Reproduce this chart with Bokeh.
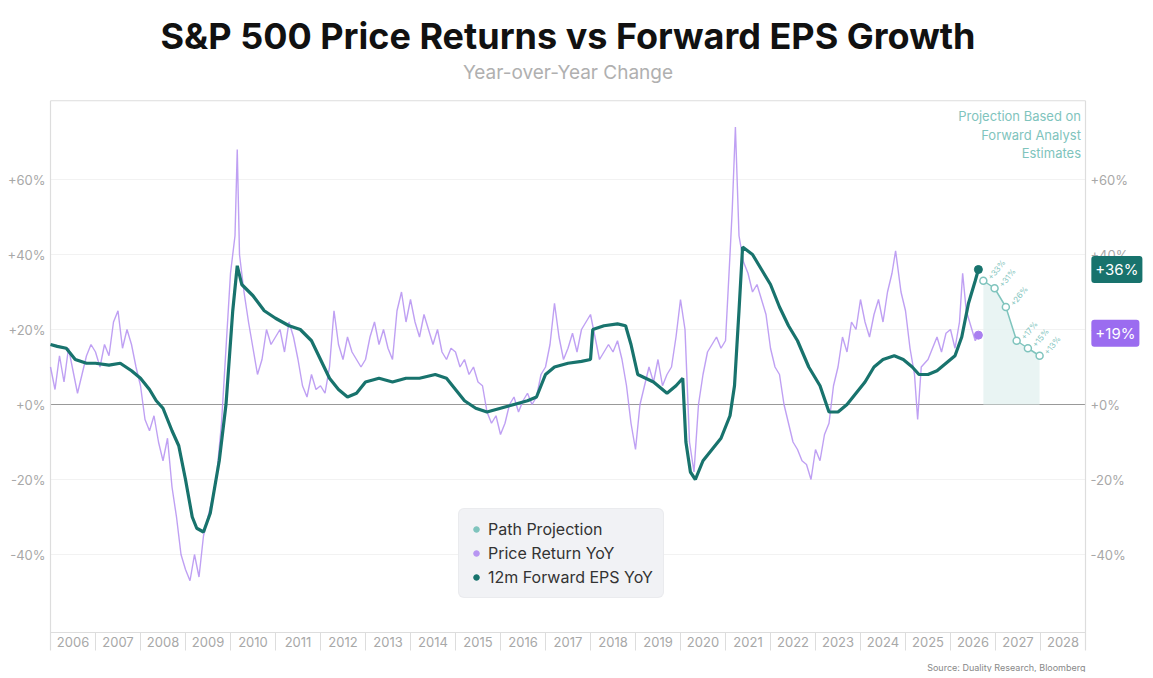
from bokeh.plotting import figure
from bokeh.models import Label, Legend, LegendItem, Range1d
from bokeh.core.properties import value
from bokeh.embed import file_html
from bokeh.resources import INLINE

# price return YoY (%)
price_x = [2006.0, 2006.1, 2006.2, 2006.3, 2006.4, 2006.5, 2006.6, 2006.7, 2006.8, 2006.9,
           2007.0, 2007.1, 2007.2, 2007.3, 2007.4, 2007.5, 2007.6, 2007.7, 2007.8, 2007.9,
           2008.0, 2008.1, 2008.2, 2008.3, 2008.4, 2008.5, 2008.6, 2008.7, 2008.8, 2008.9,
           2009.0, 2009.1, 2009.2, 2009.3, 2009.4, 2009.5, 2009.6, 2009.7, 2009.8, 2009.9,
           2010.0, 2010.1, 2010.15, 2010.2, 2010.3, 2010.4, 2010.5, 2010.6, 2010.7, 2010.8, 2010.9,
           2011.0, 2011.1, 2011.2, 2011.3, 2011.4, 2011.5, 2011.6, 2011.7, 2011.8, 2011.9,
           2012.0, 2012.1, 2012.2, 2012.3, 2012.4, 2012.5, 2012.6, 2012.7, 2012.8, 2012.9,
           2013.0, 2013.1, 2013.2, 2013.3, 2013.4, 2013.5, 2013.6, 2013.7, 2013.8, 2013.9,
           2014.0, 2014.1, 2014.2, 2014.3, 2014.4, 2014.5, 2014.6, 2014.7, 2014.8, 2014.9,
           2015.0, 2015.1, 2015.2, 2015.3, 2015.4, 2015.5, 2015.6, 2015.7, 2015.8, 2015.9,
           2016.0, 2016.1, 2016.2, 2016.3, 2016.4, 2016.5, 2016.6, 2016.7, 2016.8, 2016.9,
           2017.0, 2017.1, 2017.2, 2017.3, 2017.4, 2017.5, 2017.6, 2017.7, 2017.8, 2017.9,
           2018.0, 2018.1, 2018.2, 2018.3, 2018.4, 2018.5, 2018.6, 2018.7, 2018.8, 2018.9,
           2019.0, 2019.1, 2019.2, 2019.3, 2019.4, 2019.5, 2019.6, 2019.7, 2019.8, 2019.9,
           2020.0, 2020.1, 2020.2, 2020.3, 2020.4, 2020.5, 2020.6, 2020.7, 2020.8, 2020.9,
           2021.0, 2021.1, 2021.15, 2021.22, 2021.3, 2021.4, 2021.5, 2021.6, 2021.7, 2021.8, 2021.9,
           2022.0, 2022.1, 2022.2, 2022.3, 2022.4, 2022.5, 2022.6, 2022.7, 2022.8, 2022.9,
           2023.0, 2023.1, 2023.2, 2023.3, 2023.4, 2023.5, 2023.6, 2023.7, 2023.8, 2023.9,
           2024.0, 2024.1, 2024.2, 2024.3, 2024.4, 2024.5, 2024.6, 2024.7, 2024.78, 2024.9,
           2025.0, 2025.1, 2025.2, 2025.27, 2025.35, 2025.5, 2025.6, 2025.7, 2025.8, 2025.9,
           2026.0, 2026.1, 2026.2, 2026.27, 2026.35, 2026.45, 2026.55, 2026.62]
price_y = [10, 4, 13, 6, 15, 9, 3, 8, 13, 16,
           14, 10, 16, 13, 22, 25, 15, 20, 16, 10,
           5, -4, -7, -3, -10, -15, -9, -22, -30, -40,
           -44, -47, -40, -46, -35, -30, -25, -18, -5, 15,
           35, 45, 68, 40, 30, 22, 15, 8, 12, 20, 16,
           18, 20, 14, 22, 18, 12, 5, 2, 8, 4,
           5, 3, 10, 25, 16, 12, 18, 14, 12, 10,
           12, 18, 22, 16, 20, 15, 12, 25, 30, 22,
           28, 22, 18, 24, 20, 16, 20, 14, 12, 15,
           14, 10, 12, 8, 10, 6, 5, -2, -5, -3,
           -8, -5, 0, 2, -2, 1, 3, 0, 2, 8,
           10, 16, 27, 18, 12, 15, 19, 14, 20, 22,
           24, 18, 12, 14, 16, 14, 17, 12, 5, -5,
           -12, 0, 5, 10, 6, 12, 5, 8, 10, 18,
           28, 20, -10, -18, 0, 8, 14, 16, 18, 15,
           17, 40, 52, 74, 45, 38, 35, 30, 32, 28, 24,
           15, 10, 8, 0, -5, -10, -12, -15, -16, -20,
           -12, -15, -8, -5, 5, 10, 18, 14, 22, 20,
           28, 22, 18, 24, 28, 22, 30, 35, 41, 30,
           25, 15, 8, -4, 10, 12, 15, 18, 14, 19,
           20, 15, 22, 35, 25, 21, 17, 18.5]

# 12m forward EPS YoY (%)
eps_x = [2006.0, 2006.15, 2006.35, 2006.55, 2006.8, 2007.0, 2007.3, 2007.55, 2007.8, 2008.0,
         2008.2, 2008.35, 2008.5, 2008.7, 2008.85, 2009.0, 2009.15, 2009.25, 2009.4, 2009.55,
         2009.75, 2009.9, 2010.05, 2010.15, 2010.25, 2010.5, 2010.75, 2011.0, 2011.3, 2011.55,
         2011.8, 2012.0, 2012.2, 2012.4, 2012.6, 2012.8, 2013.0, 2013.3, 2013.6, 2013.9,
         2014.2, 2014.55, 2014.8, 2015.0, 2015.2, 2015.45, 2015.7, 2016.0, 2016.3, 2016.6,
         2016.8, 2017.0, 2017.2, 2017.5, 2017.8, 2018.0, 2018.05, 2018.3, 2018.6, 2018.78,
         2018.9, 2019.05, 2019.4, 2019.7, 2019.9, 2020.05, 2020.12, 2020.22, 2020.33, 2020.5,
         2020.7, 2020.9, 2021.1, 2021.2, 2021.3, 2021.38, 2021.6, 2021.8, 2022.0, 2022.2,
         2022.4, 2022.6, 2022.85, 2023.1, 2023.3, 2023.5, 2023.7, 2023.9, 2024.1, 2024.3,
         2024.5, 2024.75, 2024.95, 2025.15, 2025.3, 2025.5, 2025.7, 2025.9, 2026.1, 2026.25,
         2026.4, 2026.55, 2026.62]
eps_y = [16, 15.5, 15, 12, 11, 11, 10.5, 11, 9, 7,
         4, 1, -1, -7, -11, -20, -30, -33, -34, -29,
         -15, 0, 25, 37, 32, 29, 25, 23, 21, 20,
         17, 12, 7, 4, 2, 3, 6, 7, 6, 7,
         7, 8, 7, 4, 1, -1, -2, -1, 0, 1,
         2, 8, 10, 11, 11.5, 12, 20, 21, 21.5, 21,
         16, 8, 6, 3, 5, 7, -10, -18, -20, -15,
         -12, -9, -3, 5, 25, 42, 40, 36, 32, 26,
         21, 17, 10, 5, -2, -2, 0, 3, 6, 10,
         12, 13, 12, 10, 8, 8, 9, 11, 13, 18,
         27, 33, 36]

proj_x = [2026.73, 2026.98, 2027.23, 2027.47, 2027.72, 2027.98]
proj_y = [33, 31, 26, 17, 15, 13]
proj_labels = ["+33%", "+31%", "+26%", "+17%", "+15%", "+13%"]

years = list(range(2006, 2029))
y_ticks = [-40, -20, 0, 20, 40, 60]
y_tick_labels = ["-40%", "-20%", "+0%", "+20%", "+40%", "+60%"]
badge_vals = [36, 19]

X0, X1 = 2006, 2029      # plot frame, years
Y0, Y1 = -60.8, 81       # plot frame, percent
BAND = -65.6             # bottom of the year band

PURPLE = "#b896f2"
TEAL = "#18736d"
PROJ = "#7fc4bd"
GREY = "#a8a8a8"
FRAME = "#dddddd"

W, H = 1145, 672
# the whole canvas is one data space: 45 px per year, 3.75 px per percent
p = figure(width=W, height=H, x_range=Range1d(2006 - 50 / 45, 2006 + (W - 50) / 45),
           y_range=Range1d((404 - H) / 3.75, 404 / 3.75),
           output_backend="svg", toolbar_location=None,
           min_border_left=0, min_border_right=0, min_border_top=0, min_border_bottom=0)
p.axis.visible = False
p.grid.visible = False
p.outline_line_color = None

# grid lines
p.segment(x0=[X0] * len(y_ticks), x1=[X1] * len(y_ticks), y0=y_ticks, y1=y_ticks,
          line_color="#f2f2f2", line_width=1)
p.segment(x0=[X0], x1=[X1], y0=[0], y1=[0], line_color="#999999", line_width=1.2)

# frame and year band
p.segment(x0=[X0, X0, X0, X1], x1=[X1, X1, X0, X1], y0=[Y1, Y0, Y1, Y1], y1=[Y1, Y0, BAND, BAND],
          line_color=FRAME, line_width=1.2)
p.segment(x0=years[1:], x1=years[1:], y0=[Y0] * (len(years) - 1), y1=[BAND] * (len(years) - 1),
          line_color=FRAME, line_width=1)
p.text(x=[y + 0.5 for y in years], y=[(Y0 + BAND) / 2] * len(years), text=[str(y) for y in years],
       text_align="center", text_baseline="middle", text_font=value("Inter"),
       text_font_size="13px", text_color=GREY)

# y tick labels on both sides
p.text(x=[X0 - 0.11] * len(y_ticks), y=y_ticks, text=y_tick_labels, text_align="right",
       text_baseline="middle", text_font=value("Inter"), text_font_size="13px", text_color=GREY)
p.text(x=[X1 + 0.11] * len(y_ticks), y=y_ticks, text=y_tick_labels, text_align="left",
       text_baseline="middle", text_font=value("Inter"), text_font_size="13px", text_color=GREY)

# projection shading and path
p.varea(x=proj_x, y1=[0] * len(proj_x), y2=proj_y, fill_color="#e3f1f0", fill_alpha=0.8)
price_r = p.line(price_x, price_y, line_color=PURPLE, line_width=1.4, line_alpha=0.9)
eps_r = p.line(eps_x, eps_y, line_color=TEAL, line_width=3.2)
p.scatter([eps_x[-1]], [eps_y[-1]], size=8, color=TEAL)
p.scatter([price_x[-1]], [price_y[-1]], size=8, color="#a97ff0")
p.line(proj_x, proj_y, line_color=PROJ, line_width=1.5)
p.scatter(proj_x, proj_y, size=7, fill_color="white", line_color=PROJ, line_width=1.5)
p.text(x=proj_x, y=proj_y, text=proj_labels, angle=0.9, x_offset=6, y_offset=-2,
       text_font=value("Inter"), text_font_size="8px", text_color=PROJ, text_baseline="middle")

p.add_layout(Label(x=2028.9, y=79, text="Projection Based on\nForward Analyst\nEstimates",
                   text_align="right", text_baseline="top", text_color=PROJ,
                   text_font="Inter", text_font_size="13px", text_line_height=1.15))

# value badges in the right margin
for val, col in zip(badge_vals, [TEAL, "#9b6cf0"]):
    p.add_layout(Label(x=X1 + 0.13, y=val, text="+%d%%" % val, text_color="white",
                       text_baseline="middle", text_font="Inter", text_font_size="15px",
                       background_fill_color=col, padding=4, border_radius=3))

# titles
p.text(x=[(X0 + X1) / 2], y=[98.4], text=["S&P 500 Price Returns vs Forward EPS Growth"],
       text_align="center", text_baseline="middle", text_font=value("Inter"),
       text_font_size="36px", text_font_style="bold", text_color="#111111")
p.text(x=[(X0 + X1) / 2], y=[88.5], text=["Year-over-Year Change"],
       text_align="center", text_baseline="middle", text_font=value("Inter"),
       text_font_size="19px", text_color="#b0b0b0")
p.text(x=[X1], y=[-70.1], text=["Source: Duality Research, Bloomberg"],
       text_align="right", text_baseline="middle", text_font=value("Inter"),
       text_font_size="9px", text_color="#888888")

# legend with dummy markers
d1 = p.scatter([2000], [0], size=10, color=PROJ)
d2 = p.scatter([2000], [0], size=10, color=PURPLE)
d3 = p.scatter([2000], [0], size=10, color=TEAL)
legend = Legend(items=[LegendItem(label="Path Projection", renderers=[d1]),
                       LegendItem(label="Price Return YoY", renderers=[d2]),
                       LegendItem(label="12m Forward EPS YoY", renderers=[d3])],
                location=(458, H - 598), label_text_font="Inter", label_text_font_size="16px",
                label_text_color="#333333", background_fill_color="#f1f2f5",
                background_fill_alpha=1, border_line_color="#e4e4e8", border_radius=6,
                glyph_width=14, label_height=20, spacing=4, padding=10, margin=0)
p.add_layout(legend, "center")

open("out.html", "w").write(file_html(p, INLINE))
